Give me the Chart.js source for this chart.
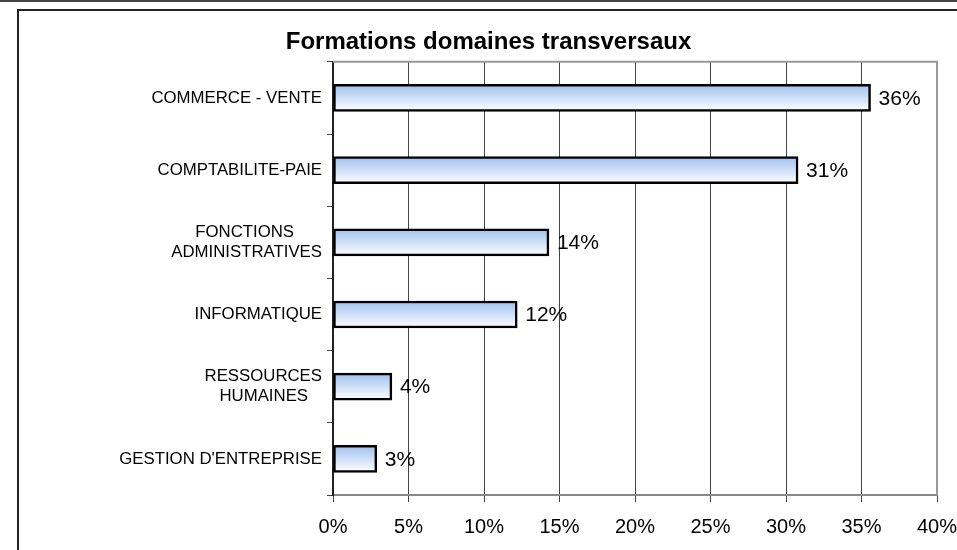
<!DOCTYPE html>
<html>
<head>
<meta charset="utf-8">
<script src="https://cdn.jsdelivr.net/npm/chart.js@4/dist/chart.umd.min.js"></script>
<style>
    body { margin: 0; background: #fff; }
    #wrap { position: relative; width: 957px; height: 550px; overflow: hidden; }
    #topline { position: absolute; left: 0; top: 0; width: 957px; height: 0; border-top: 2px solid #444; }
    #frame { position: absolute; left: 17px; top: 9px; width: 1000px; height: 600px; border: 2px solid #222; }
    #chart { position: absolute; left: 0; top: 0; }
</style>
</head>
<body>
<div id="wrap">
    <div id="topline"></div>
    <div id="frame"></div>
    <canvas id="chart" width="957" height="550"></canvas>
</div>
<script>
const labels = [
    ['COMMERCE - VENTE'],
    ['COMPTABILITE-PAIE'],
    ['FONCTIONS', 'ADMINISTRATIVES'],
    ['INFORMATIQUE'],
    ['RESSOURCES', 'HUMAINES'],
    ["GESTION D'ENTREPRISE"],
];
const values = [35.6, 30.8, 14.3, 12.2, 3.9, 2.9];
const valueLabels = ['36%', '31%', '14%', '12%', '4%', '3%'];

const FONT = 'Liberation Sans, Arial, sans-serif';
const LABEL_SIZE = 16.8;
const BAR = 27;

// centre short lines under the widest line of a multi-line label (label stays right-aligned)
const measureCtx = document.createElement('canvas').getContext('2d');
measureCtx.font = LABEL_SIZE + 'px ' + FONT;
function padLines(lines) {
    if (lines.length < 2) return lines;
    let widest = Math.max(...lines.map(l => measureCtx.measureText(l).width));
    let space = measureCtx.measureText(' ').width;
    return lines.map(l => {
        let n = Math.round((widest - measureCtx.measureText(l).width) / 2 / space);
        return l + ' '.repeat(n);
    });
}

const valuePlugin = {
    id: 'values',
    afterDatasetsDraw(chart) {
        const ctx = chart.ctx;
        const meta = chart.getDatasetMeta(0);
        ctx.save();
        ctx.font = '21px ' + FONT;
        ctx.fillStyle = '#000';
        ctx.textBaseline = 'middle';
        meta.data.forEach((bar, i) => {
            ctx.fillText(valueLabels[i], bar.x + 8, bar.y + 1);
        });
        ctx.restore();
    },
    afterDraw(chart) {
        const a = chart.chartArea;
        const ctx = chart.ctx;
        ctx.save();
        ctx.strokeStyle = '#999';
        ctx.lineWidth = 2;
        ctx.beginPath();
        ctx.moveTo(a.left, a.top);
        ctx.lineTo(a.right, a.top);
        ctx.lineTo(a.right, a.bottom);
        ctx.stroke();
        ctx.restore();
    }
};

function barGradient(c) {
    const chart = c.chart;
    const y = chart.scales.y;
    if (!y || c.dataIndex === undefined) return '#c8dcf5';
    const mid = y.getPixelForValue(c.dataIndex);
    if (!isFinite(mid)) return '#c8dcf5';
    const g = chart.ctx.createLinearGradient(0, mid - BAR / 2, 0, mid + BAR / 2);
    g.addColorStop(0, '#9fc1ee');
    g.addColorStop(1, '#ffffff');
    return g;
}

const config = {
    type: 'bar',
    data: {
        labels: labels,
        datasets: [{
            data: values,
            backgroundColor: barGradient,
            borderColor: '#000',
            borderWidth: 2.5,
            borderSkipped: false,
            barThickness: BAR,
        }]
    },
    options: {
        indexAxis: 'y',
        responsive: false,
        animation: false,
        layout: { padding: { left: 30, right: 10, top: 0, bottom: 0 } },
        plugins: {
            legend: { display: false },
            tooltip: { enabled: false },
            title: {
                display: true,
                text: 'Formations domaines transversaux',
                color: '#000',
                font: { family: FONT, size: 24, weight: 'bold' },
                padding: { top: 28, bottom: 5 },
            },
        },
        scales: {
            x: {
                min: 0,
                max: 40,
                ticks: {
                    stepSize: 5,
                    color: '#000',
                    padding: 13,
                    font: { family: FONT, size: 20 },
                    callback: v => v + '%',
                },
                grid: {
                    color: c => c.index === 8 ? '#999' : '#444',
                    tickColor: '#444',
                    tickLength: 7,
                },
                border: { color: '#888', width: 2 },
                afterFit: s => { s.height = 55; s.paddingRight = 20; },
            },
            y: {
                ticks: {
                    color: '#000',
                    padding: 5,
                    font: { family: FONT, size: LABEL_SIZE, lineHeight: 1.2 },
                    callback: function (v, i) { return padLines(labels[i]); },
                },
                grid: {
                    drawOnChartArea: false,
                    color: '#444',
                    tickLength: 6,
                },
                border: { color: '#222', width: 2 },
                afterFit: s => { s.width = 303; },
            },
        },
    },
    plugins: [valuePlugin],
};

new Chart(document.getElementById('chart'), config);
</script>
</body>
</html>
